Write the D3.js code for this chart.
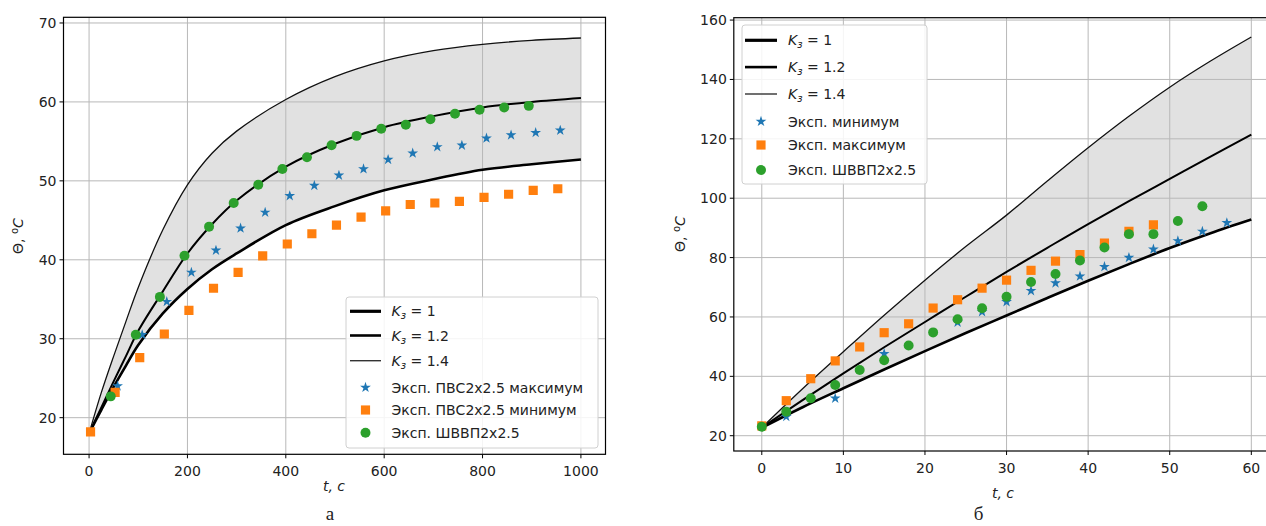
<!DOCTYPE html>
<html><head><meta charset="utf-8">
<script src="https://cdn.jsdelivr.net/npm/d3@7"></script>
<style>
body{margin:0;background:#fff;}
svg{display:block;}
text{font-family:"DejaVu Sans",sans-serif;fill:#222;}
</style></head><body>
<svg id="c" width="1266" height="526"></svg>
<script>
// ---------- Data: left panel (a) ----------
const leftCurveT = [0,25,50,75,100,150,200,250,300,400,500,600,700,800,900,1000];
const leftK1  = [18,21.0,23.9,26.6,29.2,33.2,36.3,38.8,40.8,44.4,46.8,48.8,50.2,51.4,52.1,52.7];
const leftK12 = [18,21.3,24.6,27.8,31.0,36.0,40.8,44.5,47.5,51.8,54.7,56.8,58.2,59.3,60.0,60.5];
const leftK14 = [18,23.2,27.8,32.2,36.5,43.8,49.5,53.5,56.3,60.3,63.2,65.2,66.5,67.3,67.8,68.1];
const leftStarT = [58,108,158,208,258,308,358,408,458,508,558,608,658,708,758,808,858,908,958];
const leftStarV = [24.0,30.5,34.7,38.4,41.2,44.0,46.0,48.1,49.4,50.7,51.5,52.7,53.5,54.3,54.5,55.4,55.8,56.1,56.4];
const leftSqT = [3,53,103,153,203,253,303,353,403,453,503,553,603,653,703,753,803,853,903,953];
const leftSqV = [18.2,23.2,27.6,30.6,33.6,36.4,38.4,40.5,42.0,43.3,44.4,45.4,46.2,47.0,47.2,47.4,47.9,48.3,48.8,49.0];
const leftCircT = [44,95,144,194,244,294,344,393,443,493,544,594,644,694,744,794,844,894];
const leftCircV = [22.7,30.5,35.3,40.5,44.2,47.2,49.5,51.5,53.0,54.5,55.7,56.6,57.1,57.8,58.5,59.0,59.3,59.5];
const leftXTicks = [0,200,400,600,800,1000];
const leftYTicks = [20,30,40,50,60,70];
const leftLegend = ["K|з| = 1","K|з| = 1.2","K|з| = 1.4","Эксп. ПВС2х2.5 максимум","Эксп. ПВС2х2.5 минимум","Эксп. ШВВП2х2.5"];

// ---------- Data: right panel (б) ----------
const rightCurveT = [0,5,10,15,20,25,30,35,40,45,50,55,60];
const rightK1  = [22.7,29.6,36.0,42.3,48.5,54.6,60.5,66.4,72.2,77.8,83.2,88.2,92.8];
const rightK12 = [22.7,32.0,41.0,49.8,58.3,66.8,75.2,83.3,91.3,99.0,106.5,114.0,121.4];
const rightK14 = [22.7,35.8,48.3,60.6,72.4,83.7,94.3,105.8,117.0,127.6,137.4,146.2,154.3];
const rightStarT = [3,9,15,24,27,30,33,36,39,42,45,48,51,54,57];
const rightStarV = [26.4,32.6,47.6,58.2,61.7,65.1,68.8,71.4,73.7,76.9,80.0,82.8,85.6,88.8,91.7];
const rightSqT = [0,3,6,9,12,15,18,21,24,27,30,33,36,39,42,45,48];
const rightSqV = [23.3,31.8,39.2,45.2,49.9,54.7,57.7,63.0,65.8,69.7,72.4,75.7,78.8,81.0,84.9,88.8,91.0];
const rightCircT = [0,3,6,9,12,15,18,21,24,27,30,33,36,39,42,45,48,51,54];
const rightCircV = [23.0,28.1,32.6,37.1,42.1,45.4,50.4,54.8,59.2,62.9,66.8,71.8,74.5,79.0,83.4,87.9,87.9,92.3,97.3];
const rightXTicks = [0,10,20,30,40,50,60];
const rightYTicks = [20,40,60,80,100,120,140,160];
const rightLegend = ["K|з| = 1","K|з| = 1.2","K|з| = 1.4","Эксп. минимум","Эксп. максимум","Эксп. ШВВП2х2.5"];

const C_BLUE="#1f77b4", C_ORANGE="#ff7f0e", C_GREEN="#2ca02c";
const svg = d3.select("#c");

function zip(t,v){return t.map((d,i)=>({t:d,v:v[i]}));}

function panel(cfg){
  const x = d3.scaleLinear().domain(cfg.xDom).range(cfg.xRange);
  const y = d3.scaleLinear().domain(cfg.yDom).range(cfg.yRange);
  const g = svg.append("g");
  const [x0,x1] = cfg.xRange, [y1,y0] = cfg.yRange;
  const clipId = "clip"+cfg.id;
  svg.append("clipPath").attr("id",clipId).append("rect")
    .attr("x",x0).attr("y",y0).attr("width",x1-x0).attr("height",y1-y0);
  const plot = g.append("g").attr("clip-path",`url(#${clipId})`);

  const curve = d3.curveCatmullRom.alpha(0.5);
  const lo = zip(cfg.curveT,cfg.k1), mid = zip(cfg.curveT,cfg.k12), hi = zip(cfg.curveT,cfg.k14);
  // fill between K=1 and K=1.4: upper path forward, lower path backward
  const line = d3.line().x(d=>x(d.t)).y(d=>y(d.v)).curve(curve);
  const upperD = line(hi);
  const lowerD = line(lo.slice().reverse());
  plot.append("path").attr("d",upperD+"L"+lowerD.slice(1)+"Z").attr("fill","#e1e1e1");

  // grid
  plot.selectAll(".gx").data(cfg.xTicks).enter().append("line")
    .attr("x1",d=>x(d)).attr("x2",d=>x(d)).attr("y1",y0).attr("y2",y1)
    .attr("stroke","#b8b8b8").attr("stroke-width",1);
  plot.selectAll(".gy").data(cfg.yTicks).enter().append("line")
    .attr("y1",d=>y(d)).attr("y2",d=>y(d)).attr("x1",x0).attr("x2",x1)
    .attr("stroke","#b8b8b8").attr("stroke-width",1);

  plot.append("path").attr("d",line(lo)).attr("fill","none").attr("stroke","#000").attr("stroke-width",2.6);
  plot.append("path").attr("d",line(mid)).attr("fill","none").attr("stroke","#000").attr("stroke-width",2.0);
  plot.append("path").attr("d",line(hi)).attr("fill","none").attr("stroke","#111").attr("stroke-width",1.3);

  const star = d3.symbol().type(d3.symbolStar).size(36);
  const sq = d3.symbol().type(d3.symbolSquare).size(84);
  const circ = d3.symbol().type(d3.symbolCircle).size(78);
  plot.selectAll(".st").data(zip(cfg.starT,cfg.starV)).enter().append("path")
    .attr("d",star).attr("transform",d=>`translate(${x(d.t)},${y(d.v)})`).attr("fill",C_BLUE);
  plot.selectAll(".sq").data(zip(cfg.sqT,cfg.sqV)).enter().append("path")
    .attr("d",sq).attr("transform",d=>`translate(${x(d.t)},${y(d.v)})`).attr("fill",C_ORANGE);
  plot.selectAll(".ci").data(zip(cfg.circT,cfg.circV)).enter().append("path")
    .attr("d",circ).attr("transform",d=>`translate(${x(d.t)},${y(d.v)})`).attr("fill",C_GREEN);

  // spines
  g.append("rect").attr("x",x0).attr("y",y0).attr("width",x1-x0).attr("height",y1-y0)
    .attr("fill","none").attr("stroke","#000").attr("stroke-width",1.2);

  // ticks
  const fs = 14;
  g.selectAll(".tx").data(cfg.xTicks).enter().append("line")
    .attr("x1",d=>x(d)).attr("x2",d=>x(d)).attr("y1",y1).attr("y2",y1+4).attr("stroke","#000");
  g.selectAll(".lx").data(cfg.xTicks).enter().append("text")
    .attr("x",d=>x(d)).attr("y",y1+cfg.xTickDy).attr("text-anchor","middle").attr("font-size",fs).text(d=>d);
  g.selectAll(".ty").data(cfg.yTicks).enter().append("line")
    .attr("y1",d=>y(d)).attr("y2",d=>y(d)).attr("x1",x0-4).attr("x2",x0).attr("stroke","#000");
  g.selectAll(".ly").data(cfg.yTicks).enter().append("text")
    .attr("x",x0-7).attr("y",d=>y(d)+5).attr("text-anchor","end").attr("font-size",fs).text(d=>d);

  // axis labels
  g.append("text").attr("x",cfg.xLabel[0]).attr("y",cfg.xLabel[1]).attr("text-anchor","middle")
    .attr("font-size",14).attr("font-style","italic").text("t, c");
  const yl = g.append("text").attr("transform",`translate(${cfg.yLabel[0]},${cfg.yLabel[1]}) rotate(-90)`)
    .attr("text-anchor","middle").attr("font-size",14);
  yl.append("tspan").text("Θ, ");
  yl.append("tspan").attr("dy",-5).attr("font-size",10).text("o");
  yl.append("tspan").attr("dy",5).attr("font-style","italic").text("C");

  // legend
  const L = cfg.legend;
  const lg = g.append("g");
  lg.append("rect").attr("x",L.box[0]).attr("y",L.box[1]).attr("width",L.box[2]-L.box[0]).attr("height",L.box[3]-L.box[1])
    .attr("rx",3).attr("fill","#fff").attr("fill-opacity",0.85).attr("stroke","#d0d0d0").attr("stroke-width",1);
  const widths=[3.2,2.6,1.4];
  cfg.legendLabels.forEach((lab,i)=>{
    const yy = L.rows[i];
    if(i<3){
      lg.append("line").attr("x1",L.hx[0]).attr("x2",L.hx[1]).attr("y1",yy).attr("y2",yy)
        .attr("stroke",i==2?"#333":"#000").attr("stroke-width",widths[i]);
    } else {
      const sym=[star,sq,circ][i-3], col=[C_BLUE,C_ORANGE,C_GREEN][i-3];
      lg.append("path").attr("d",sym).attr("transform",`translate(${(L.hx[0]+L.hx[1])/2},${yy})`).attr("fill",col);
    }
    const t = lg.append("text").attr("x",L.tx).attr("y",yy+5).attr("font-size",14);
    const parts = lab.split("|");
    if(parts.length===3){
      t.append("tspan").attr("font-style","italic").text(parts[0]);
      t.append("tspan").attr("font-style","italic").attr("font-size",10).attr("dy",3).text(parts[1]);
      t.append("tspan").attr("dy",-3).text(parts[2]);
    } else t.text(lab);
  });
}

panel({id:"a", xDom:[-52,1050], xRange:[63.5,605.5], yDom:[15.36,70.72], yRange:[454.3,17.3],
  curveT:leftCurveT, k1:leftK1, k12:leftK12, k14:leftK14,
  starT:leftStarT, starV:leftStarV, sqT:leftSqT, sqV:leftSqV, circT:leftCircT, circV:leftCircV,
  xTicks:leftXTicks, yTicks:leftYTicks, xTickDy:22, xLabel:[334,491], yLabel:[23,236],
  legendLabels:leftLegend,
  legend:{box:[346,297,598,448], rows:[311.3,335.5,360.7,387.5,410,432.8], hx:[350,381], tx:391.5}
});
panel({id:"b", xDom:[-3.43,63.43], xRange:[733.8,1279.3], yDom:[14.85,160.8], yRange:[451,17.7],
  curveT:rightCurveT, k1:rightK1, k12:rightK12, k14:rightK14,
  starT:rightStarT, starV:rightStarV, sqT:rightSqT, sqV:rightSqV, circT:rightCircT, circV:rightCircV,
  xTicks:rightXTicks, yTicks:rightYTicks, xTickDy:22, xLabel:[1003,498], yLabel:[685,234],
  legendLabels:rightLegend,
  legend:{box:[742,25,927,184], rows:[40.3,67.1,94,121.5,145,170.1], hx:[745,777], tx:788}
});

svg.append("text").attr("x",330).attr("y",520).attr("text-anchor","middle")
  .style("font-family","'Liberation Serif',serif").attr("font-size",19).text("а");
svg.append("text").attr("x",978.5).attr("y",520).attr("text-anchor","middle")
  .style("font-family","'Liberation Serif',serif").attr("font-size",19).text("б");
</script>
</body></html>
